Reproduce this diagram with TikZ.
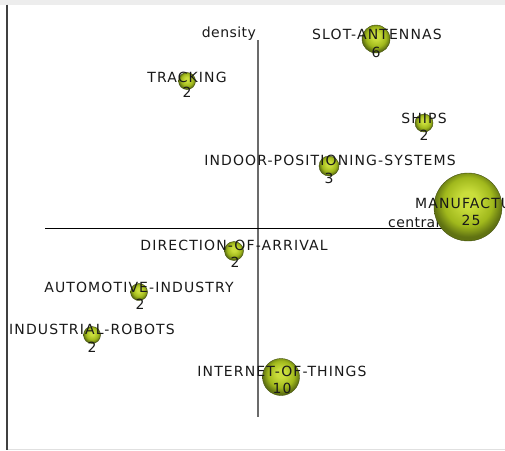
\documentclass[tikz,border=0pt]{standalone}
\usepackage{fontspec}
\newfontfamily\labfont[LetterSpace=8]{DejaVu Sans}
\newfontfamily\axfont[LetterSpace=3]{DejaVu Sans}
\definecolor{bhl}{RGB}{202,222,60}
\definecolor{bmid}{RGB}{160,184,28}
\definecolor{bedge}{RGB}{96,114,18}
\definecolor{txt}{RGB}{25,25,25}
\pgfdeclareradialshading{bubble}{\pgfqpoint{0bp}{6bp}}{%
  color(0bp)=(bhl); color(6bp)=(bhl); color(18bp)=(bmid);
  color(25bp)=(bedge); color(50bp)=(bedge)}
\tikzset{
  bub/.style={circle, shading=bubble, draw=bedge!70!black, line width=0.4pt, inner sep=0pt},
  lab/.style={inner sep=0pt, text=txt, font=\labfont\fontsize{14}{15}\selectfont},
  num/.style={inner sep=0pt, text=txt, font=\labfont\fontsize{14}{15}\selectfont},
  axlab/.style={inner sep=0pt, text=txt, font=\axfont\fontsize{14}{15}\selectfont},
}
\begin{document}
\begin{tikzpicture}[x=1pt,y=-1pt]
\useasboundingbox (0,0) rectangle (505,450);
\clip (0,0) rectangle (505,450);
% frame
\fill[black!7] (0,0) rectangle (505,4.5);
\draw[black!12, line width=1pt] (7,449) -- (505,449);
\draw[black!75, line width=1.5pt] (7,4.5) -- (7,450);
% axes
\coordinate (vtop) at (258,40);
\coordinate (vbot) at (258,417);
\coordinate (hleft) at (45,228.3);
\coordinate (hright) at (470,228.3);
\draw[black!58, line width=2pt] (vtop) -- (vbot);
\draw[black, line width=1pt] (hleft) -- (hright);
\node[axlab, anchor=base east] (dens) at (256,37) {density};
\node[axlab, anchor=base west] (cent) at (388,227) {centrality};
% bubbles
\node[bub, minimum size=28pt] (slotB) at (376,39) {};
\node[bub, minimum size=17pt] (trackB) at (187,81) {};
\node[bub, minimum size=18pt] (shipsB) at (424,123) {};
\node[bub, minimum size=20pt] (indoorB) at (329,166) {};
\node[bub, minimum size=68pt] (manuB) at (468,207) {};
\node[bub, minimum size=19pt] (doaB) at (234,251) {};
\node[bub, minimum size=17pt] (autoB) at (139,292) {};
\node[bub, minimum size=17pt] (robB) at (92,335) {};
\node[bub, minimum size=37pt] (iotB) at (281,377) {};
% labels
\node[lab] (slotL) at (377,34) {SLOT-ANTENNAS};
\node[num] (slotN) at (376,52) {6};
\node[lab] (trackL) at (187,77) {TRACKING};
\node[num] (trackN) at (187,92) {2};
\node[lab] (shipsL) at (424,118) {SHIPS};
\node[num] (shipsN) at (424,135) {2};
\node[lab] (indoorL) at (330,160) {INDOOR-POSITIONING-SYSTEMS};
\node[num] (indoorN) at (329,178) {3};
\node[lab, anchor=west] (manuL) at (415,203) {MANUFACTU};
\node[num] (manuN) at (471,220) {25};
\node[lab] (doaL) at (234,245) {DIRECTION-OF-ARRIVAL};
\node[num] (doaN) at (235,262) {2};
\node[lab] (autoL) at (139,287) {AUTOMOTIVE-INDUSTRY};
\node[num] (autoN) at (140,304) {2};
\node[lab] (robL) at (92,329) {INDUSTRIAL-ROBOTS};
\node[num] (robN) at (92,347) {2};
\node[lab] (iotL) at (282,371) {INTERNET-OF-THINGS};
\node[num] (iotN) at (282,388) {10};
\end{tikzpicture}
\end{document}
